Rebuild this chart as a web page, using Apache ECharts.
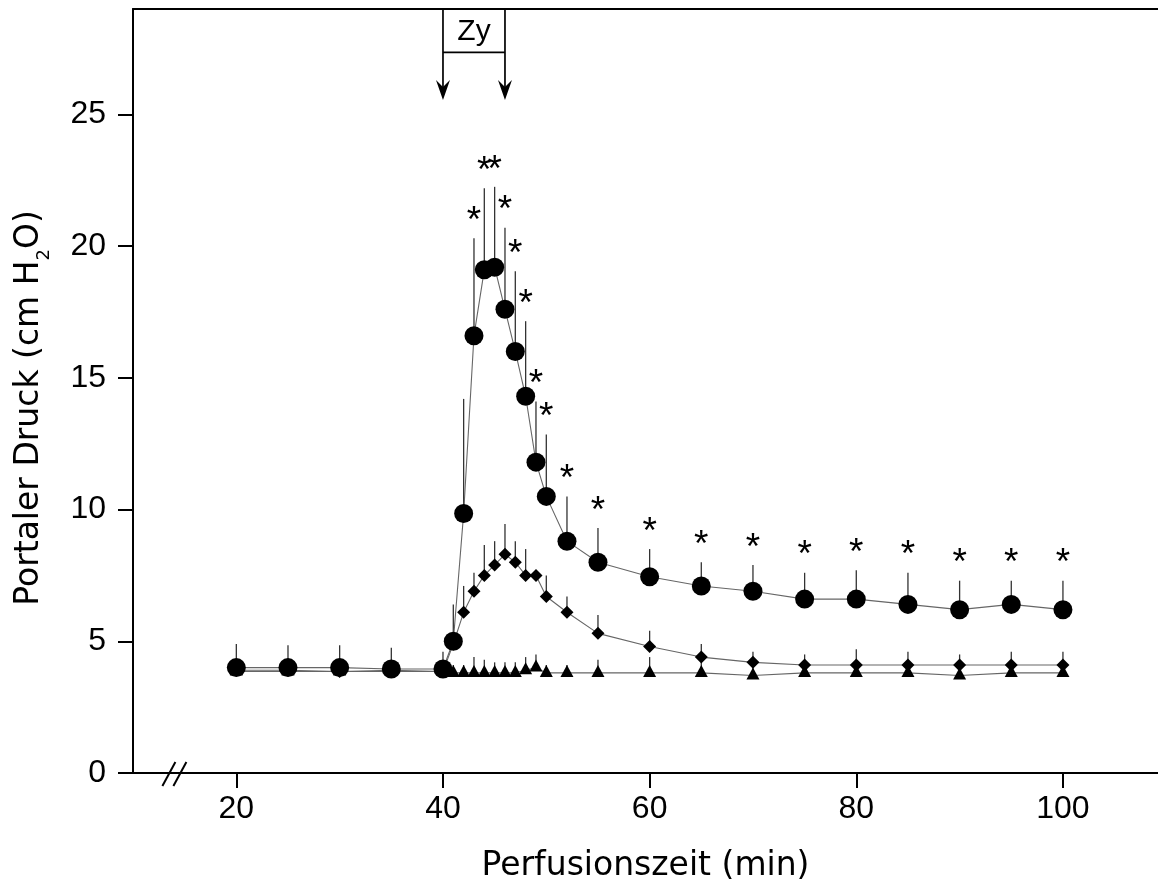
<!DOCTYPE html>
<html>
<head>
<meta charset="utf-8">
<script src="https://cdn.jsdelivr.net/npm/echarts@6/dist/echarts.min.js"></script>
<style>
  html, body { margin: 0; padding: 0; background: #fff; }
  #chart { width: 1158px; height: 890px; }
</style>
</head>
<body>
<div id="chart"></div>
<script>
// ---- data ----
const times = [20, 25, 30, 35, 40, 41, 42, 43, 44, 45, 46, 47, 48, 49, 50, 52, 55, 60, 65, 70, 75, 80, 85, 90, 95, 100];
const circleMean = [4.0, 4.0, 4.0, 3.95, 3.95, 5.0, 9.85, 16.6, 19.1, 19.2, 17.6, 16.0, 14.3, 11.8, 10.5, 8.8, 8.0, 7.45, 7.1, 6.9, 6.6, 6.6, 6.4, 6.2, 6.4, 6.2];
const circleSD   = [0.9, 0.85, 0.85, 0.8, 0.65, 1.4, 4.35, 3.7, 3.1, 3.05, 3.1, 3.05, 2.85, 2.3, 2.35, 1.7, 1.3, 1.05, 0.9, 1.0, 1.0, 1.1, 1.2, 1.1, 0.9, 1.1];
const diamondMean = [3.9, 3.9, 3.85, 3.9, 3.85, 4.9, 6.1, 6.9, 7.5, 7.9, 8.3, 8.0, 7.5, 7.5, 6.7, 6.1, 5.3, 4.8, 4.4, 4.2, 4.1, 4.1, 4.1, 4.1, 4.1, 4.1];
const diamondSD   = [0, 0, 0, 0, 0, 0, 1.0, 0.7, 1.15, 0.9, 1.15, 0.8, 1.0, 0, 0.8, 0.6, 0.7, 0.6, 0.5, 0.4, 0.4, 0.6, 0.5, 0.4, 0.5, 0.5];
const triangleMean = [3.85, 3.85, 3.85, 3.85, 3.85, 3.8, 3.8, 3.8, 3.8, 3.8, 3.8, 3.8, 3.9, 4.0, 3.8, 3.8, 3.8, 3.8, 3.8, 3.7, 3.8, 3.8, 3.8, 3.7, 3.8, 3.8];
const triangleSD   = [0, 0, 0, 0, 0, 0.3, 0.3, 0.6, 0.5, 0.4, 0.4, 0.4, 0.5, 0.5, 0.3, 0.3, 0.5, 0.6, 0.5, 0.4, 0.4, 0.5, 0.5, 0.4, 0.4, 0.4];
const starTimes = [43, 44, 45, 46, 47, 48, 49, 50, 52, 55, 60, 65, 70, 75, 80, 85, 90, 95, 100];
const xTickValues = [20, 40, 60, 80, 100];
const yTickValues = [0, 5, 10, 15, 20, 25];
const zyStart = 40, zyEnd = 46, zyText = 'Zy';
const zyBoxBottom = 27.35, zyArrowTip = 25.55;
const breakAt = 14.2;
const xName = 'Perfusionszeit (min)';
const yNameParts = ['Portaler Druck (cm H', '2', 'O)'];

// ---- helpers ----
const pairs = (m) => times.map((t, i) => [t, m[i]]);
const errData = (m, s) => times.map((t, i) => [t, m[i], m[i] + s[i]]).filter(d => d[2] > d[1]);
const starData = starTimes.map(t => { const i = times.indexOf(t); return [t, circleMean[i] + circleSD[i]]; });

const AX = '#000';
const TICKFONT = "'Liberation Sans', Arial, sans-serif";
const NAMEFONT = "'DejaVu Sans', sans-serif";

function errRender(params, api) {
  const p0 = api.coord([api.value(0), api.value(1)]);
  const p1 = api.coord([api.value(0), api.value(2)]);
  return { type: 'line', shape: { x1: p0[0], y1: p0[1], x2: p1[0], y2: p1[1] },
           style: { stroke: '#333', lineWidth: 1.3 } };
}

const chart = echarts.init(document.getElementById('chart'), null, { renderer: 'canvas' });
const option = {
  animation: false,
  backgroundColor: '#fff',
  grid: { left: 133, top: 9, right: 0, bottom: 117, containLabel: false },
  xAxis: [{
    type: 'value', min: 10, max: 109.2, position: 'bottom',
    axisLine: { show: true, lineStyle: { color: AX, width: 2 } },
    axisTick: { show: true, customValues: xTickValues, length: 15, inside: false, lineStyle: { color: AX, width: 2 } },
    axisLabel: { show: true, customValues: xTickValues, margin: 20, color: '#000', fontSize: 32, fontFamily: TICKFONT },
    splitLine: { show: false },
    name: xName, nameLocation: 'middle', nameGap: 77,
    nameTextStyle: { color: '#000', fontSize: 33, fontFamily: NAMEFONT }
  }, {
    type: 'value', min: 10, max: 109.2, position: 'top',
    axisLine: { show: true, lineStyle: { color: AX, width: 2 } },
    axisTick: { show: false }, axisLabel: { show: false }, splitLine: { show: false }
  }],
  yAxis: {
    type: 'value', min: 0, max: 29,
    axisLine: { show: true, lineStyle: { color: AX, width: 2 } },
    axisTick: { show: true, customValues: yTickValues, length: 15, lineStyle: { color: AX, width: 2 } },
    axisLabel: { show: true, customValues: yTickValues, margin: 27, color: '#000', fontSize: 32, fontFamily: TICKFONT },
    splitLine: { show: false },
    name: yNameParts[0] + '{sub|' + yNameParts[1] + '}' + yNameParts[2],
    nameLocation: 'middle', nameGap: 80,
    nameTextStyle: {
      color: '#000', fontSize: 33, fontFamily: NAMEFONT, padding: [0, 34, 0, 0],
      rich: { sub: { fontSize: 18, fontFamily: NAMEFONT, color: '#000', padding: [30, 0, 0, 0] } }
    }
  },
  series: [
    { type: 'custom', name: 'errT', renderItem: errRender, data: errData(triangleMean, triangleSD), silent: true, z: 1 },
    { type: 'custom', name: 'errD', renderItem: errRender, data: errData(diamondMean, diamondSD), silent: true, z: 1 },
    { type: 'custom', name: 'errC', renderItem: errRender, data: errData(circleMean, circleSD), silent: true, z: 1 },
    { type: 'line', name: 'triangle', data: pairs(triangleMean), symbol: 'triangle', symbolSize: [13, 12], symbolOffset: [0, -2],
      itemStyle: { color: '#000', borderWidth: 0 }, lineStyle: { color: '#666', width: 1.1 }, silent: true, z: 2 },
    { type: 'line', name: 'diamond', data: pairs(diamondMean), symbol: 'diamond', symbolSize: 13,
      itemStyle: { color: '#000', borderWidth: 0 }, lineStyle: { color: '#666', width: 1.1 }, silent: true, z: 3 },
    { type: 'line', name: 'circle', data: pairs(circleMean), symbol: 'circle', symbolSize: 19,
      itemStyle: { color: '#000', borderWidth: 0 }, lineStyle: { color: '#666', width: 1.1 }, silent: true, z: 4 },
    { type: 'custom', name: 'stars', silent: true, z: 5, data: starData,
      renderItem: (params, api) => {
        const p = api.coord([api.value(0), api.value(1)]);
        return { type: 'text', x: p[0], y: p[1] + 2,
                 style: { text: '*', fill: '#000', font: '37px ' + TICKFONT, align: 'center', verticalAlign: 'bottom' } };
      } },
    { type: 'custom', name: 'zy', silent: true, z: 6, clip: false,
      data: [[zyStart, zyEnd, zyBoxBottom, zyArrowTip]],
      renderItem: (params, api) => {
        const x0 = api.value(0), x1 = api.value(1), yb = api.value(2), yt = api.value(3);
        const top = api.coord([x0, 29])[1];
        const a = api.coord([x0, yb]), b = api.coord([x1, yb]);
        const ta = api.coord([x0, yt]), tb = api.coord([x1, yt]);
        const st = { stroke: '#000', lineWidth: 1.7 };
        const head = (x, y) => ({ type: 'polygon', shape: { points: [[x, y], [x - 7, y - 20], [x, y - 13], [x + 7, y - 20]] }, style: { fill: '#000' } });
        return { type: 'group', children: [
          { type: 'line', shape: { x1: a[0], y1: top, x2: ta[0], y2: ta[1] - 8 }, style: st },
          { type: 'line', shape: { x1: b[0], y1: top, x2: tb[0], y2: tb[1] - 8 }, style: st },
          { type: 'line', shape: { x1: a[0], y1: a[1], x2: b[0], y2: b[1] }, style: st },
          head(ta[0], ta[1]), head(tb[0], tb[1]),
          { type: 'text', x: (a[0] + b[0]) / 2, y: (top + a[1]) / 2 + 1,
            style: { text: zyText, fill: '#000', font: '30px ' + TICKFONT, align: 'center', verticalAlign: 'middle' } }
        ] };
      } },
    { type: 'custom', name: 'break', silent: true, z: 6, clip: false,
      data: [[breakAt, 0]],
      renderItem: (params, api) => {
        const p = api.coord([api.value(0), api.value(1)]);
        const st = { stroke: '#000', lineWidth: 2 };
        return { type: 'group', children: [
          { type: 'line', shape: { x1: p[0] - 14, y1: p[1] + 13, x2: p[0] - 1, y2: p[1] - 11 }, style: st },
          { type: 'line', shape: { x1: p[0] - 3, y1: p[1] + 13, x2: p[0] + 10, y2: p[1] - 11 }, style: st }
        ] };
      } }
  ]
};
chart.setOption(option);
</script>
</body>
</html>
